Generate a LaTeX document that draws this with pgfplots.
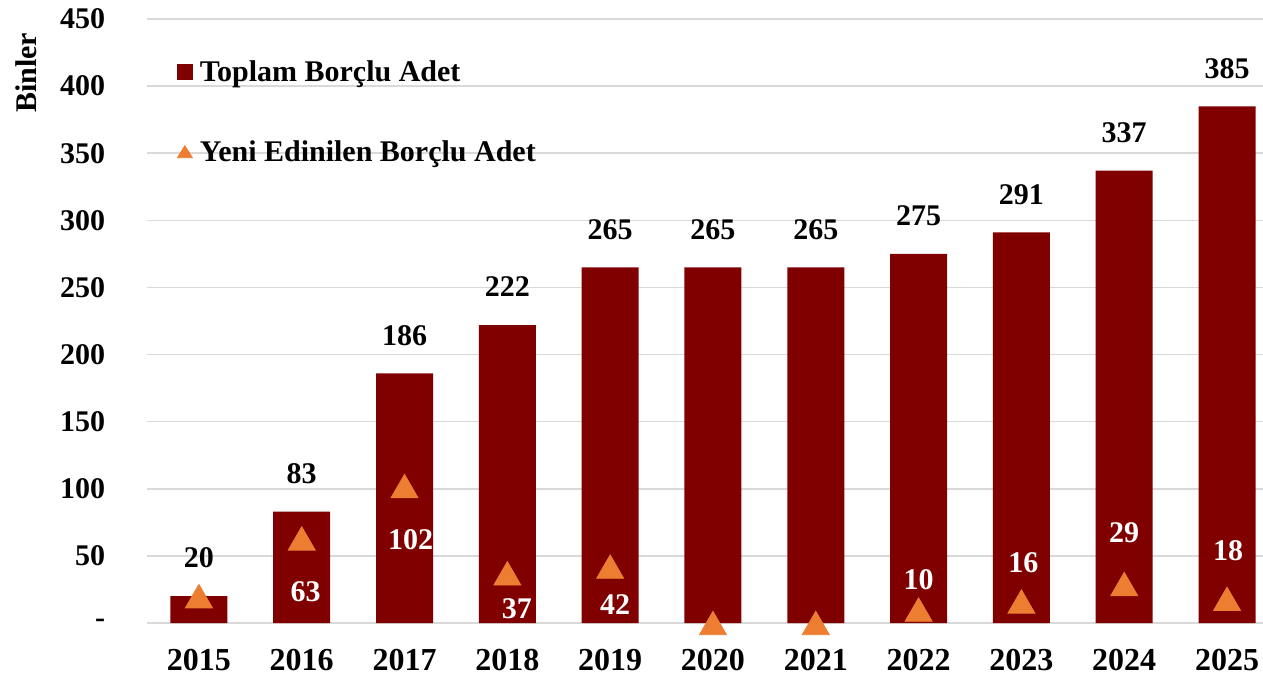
\documentclass[border=0pt]{standalone}
\usepackage{pgfplots}
\pgfplotsset{compat=1.18}
\usepackage{pgfplotstable}
\usepackage{fontspec}
\setmainfont{Liberation Serif}
\definecolor{barred}{RGB}{128,0,0}
\definecolor{triorange}{RGB}{237,125,49}
\definecolor{gridgray}{RGB}{217,217,217}

\pgfplotstableread{
x tot new dx dy lab
0 20 20 0 0 {}
1 83 63 2 -24.5 63
2 186 102 3 -25 102
3 222 37 4.8 -15.5 37
4 265 42 2.5 -17 42
5 265 0 0 0 {}
6 265 0 0 0 {}
7 275 10 0 17 10
8 291 16 1 21.5 16
9 337 29 0 27.5 29
10 385 18 0.5 26 18
}\data

\begin{document}
\begin{tikzpicture}
\begin{axis}[
  scale only axis, width=557.5pt, height=302pt,
  xmin=-0.5, xmax=10.345, ymin=0, ymax=450,
  clip=false,
  axis line style={draw=none},
  major tick length=0pt,
  ymajorgrids, grid style={gridgray, line width=0.8pt},
  xtick={0,1,2,3,4,5,6,7,8,9,10},
  xticklabels={2015,2016,2017,2018,2019,2020,2021,2022,2023,2024,2025},
  ytick={0,50,100,150,200,250,300,350,400,450},
  yticklabels={{-\hspace{5pt}},50,100,150,200,250,300,350,400,450},
  /pgf/number format/assume math mode=true,
  xticklabel style={font=\bfseries\fontsize{16}{18}\selectfont, inner sep=0pt, anchor=center, yshift=-18.5pt},
  yticklabel style={font=\bfseries\fontsize{15}{17}\selectfont, inner sep=0pt, anchor=east, xshift=-21pt},
  ylabel={Binler},
  ylabel style={font=\bfseries\fontsize{15}{17}\selectfont, at={(rel axis cs:-0.109,0.911)}, rotate=0, anchor=center},
  legend style={draw=none, fill=none, at={(rel axis cs:0,1)}, anchor=north west, xshift=14.5pt, yshift=-18.5pt,
    inner sep=0pt, row sep=24pt, font=\bfseries\fontsize{15}{17}\selectfont,
    /tikz/every odd column/.append style={column sep=1.5pt}},
  legend cell align=left,
]
\coordinate (O) at (rel axis cs:0,0);
\addplot[ybar, bar width=28.5pt, fill=barred, draw=none,
  nodes near coords,
  nodes near coords style={font=\bfseries\fontsize{15}{17}\selectfont, black, anchor=center, yshift=19pt, inner sep=0pt},
  legend image code/.code={\fill[barred] (1.25pt,-3.6pt) rectangle (9.25pt,4.4pt);}
] table[x=x, y=tot] {\data};
\addlegendentry{Toplam Borçlu Adet}
\addplot[only marks, mark=triangle*, mark size=7.8pt, color=triorange,
  mark options={yshift=-1.95pt},
  point meta=explicit symbolic,
  nodes near coords,
  visualization depends on={\thisrow{dx}\as\lbdx},
  visualization depends on={\thisrow{dy}\as\lbdy},
  nodes near coords style={font=\bfseries\fontsize{15}{17}\selectfont, white, anchor=center, xshift=\lbdx pt, yshift=\lbdy pt, inner sep=0pt},
  legend image code/.code={\fill[triorange] (1.5pt,-2.8pt) -- (9pt,-2.8pt) -- (5.25pt,3.2pt) -- cycle;}
] table[x=x, y=new, meta=lab] {\data};
\addlegendentry{Yeni Edinilen Borçlu Adet}
\end{axis}
\pgfresetboundingbox
\path ([shift={(-73.75pt,-29pt)}]O) rectangle ++(631.5pt,340.5pt);
\end{tikzpicture}
\end{document}
